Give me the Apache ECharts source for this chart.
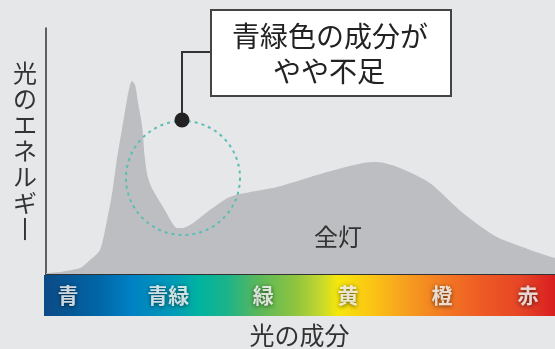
<!DOCTYPE html>
<html>
<head>
<meta charset="utf-8">
<script src="https://cdn.jsdelivr.net/npm/echarts@6/dist/echarts.min.js"></script>
<style>
html,body{margin:0;padding:0;background:#e6e7e9;}
#c{width:555px;height:349px;}
</style>
</head>
<body>
<div id="c"></div>
<script>
// Spectrum (relative position along visible spectrum 0-100, relative energy 0-100)
var spectrumX = [0, 2.75, 6.68, 8.64, 10.6, 12.0, 13.0, 13.9, 14.9, 15.9, 16.5, 16.9, 17.5, 18.1, 18.9, 19.4, 20.0, 21.0, 23.0, 24.8, 25.7, 26.9, 28.9, 32.2, 36.1, 40.1, 45.4, 54.4, 62.3, 65.0, 69.5, 75.4, 81.9, 88.6, 95.1, 100];
var spectrumY = [0.4, 0.8, 2.4, 5.7, 9.8, 22, 32.9, 46.3, 58.5, 70.7, 76.8, 78.5, 76.8, 69.5, 59.8, 47.6, 39.4, 34.1, 27.2, 20.7, 18.7, 18.7, 20.7, 26, 31.3, 33.3, 35.4, 41, 45.1, 45.5, 43.1, 37, 24.8, 15, 9.8, 6.5];
// Colour band labels and their positions along the band (0-100)
var bandLabels = ['青', '青緑', '緑', '黄', '橙', '赤'];
var bandPos = [4.7, 24.3, 42.9, 59.5, 77.9, 94.7];
var yAxisTitle = '光のエネルギー';
var xAxisTitle = '光の成分';
var seriesName = '全灯';
var noteLines = ['青緑色の成分が', 'やや不足'];

var FONT = '"Noto Sans CJK JP", "Noto Sans", sans-serif';
var chart = echarts.init(document.getElementById('c'), null, {renderer: 'canvas'});

var areaData = spectrumX.map(function (x, i) { return [x, spectrumY[i]]; });
var bandData = bandPos.map(function (x, i) { return [x, 0.5, bandLabels[i]]; });

var bandGradient = {
  type: 'linear', x: 0, y: 0, x2: 1, y2: 0,
  colorStops: [
    {offset: 0, color: '#0b4a86'},
    {offset: 0.11, color: '#0067a8'},
    {offset: 0.168, color: '#0080c3'},
    {offset: 0.252, color: '#009bb8'},
    {offset: 0.305, color: '#00b39f'},
    {offset: 0.358, color: '#1cb38a'},
    {offset: 0.417, color: '#58b75c'},
    {offset: 0.491, color: '#8dc43f'},
    {offset: 0.54, color: '#c2d72e'},
    {offset: 0.575, color: '#f6e70b'},
    {offset: 0.642, color: '#fbc414'},
    {offset: 0.706, color: '#f6a01e'},
    {offset: 0.785, color: '#f27823'},
    {offset: 0.857, color: '#ee5a24'},
    {offset: 0.935, color: '#e64426'},
    {offset: 1, color: '#d81e20'}
  ]
};

var vertName = yAxisTitle.split('').map(function (c) { return c === 'ー' ? '丨' : c; }).join('\n');

chart.setOption({
  backgroundColor: '#e6e7e9',
  animation: false,
  grid: [
    {left: 46, right: 0, top: 28, bottom: 75},
    {left: 44, right: 0, top: 275, bottom: 33, show: true, backgroundColor: bandGradient, borderWidth: 0}
  ],
  xAxis: [
    {type: 'value', gridIndex: 0, min: 0, max: 100, axisLabel: {show: false}, axisTick: {show: false}, splitLine: {show: false},
     axisLine: {show: true, lineStyle: {color: '#333', width: 2}}},
    {type: 'value', gridIndex: 1, min: 0, max: 100, axisLabel: {show: false}, axisTick: {show: false}, splitLine: {show: false},
     axisLine: {show: false}, name: xAxisTitle, nameLocation: 'middle', nameGap: 7,
     nameTextStyle: {fontFamily: FONT, fontSize: 25, color: '#333'}}
  ],
  yAxis: [
    {type: 'value', gridIndex: 0, min: 0, max: 100, axisLabel: {show: false}, axisTick: {show: false}, splitLine: {show: false},
     axisLine: {show: true, lineStyle: {color: '#333', width: 1.5}},
     name: vertName, nameLocation: 'middle', nameRotate: 0, nameGap: 9,
     nameTextStyle: {fontFamily: FONT, fontSize: 24, color: '#333', lineHeight: 26, padding: [22, 0, 0, 0]}},
    {type: 'value', gridIndex: 1, min: 0, max: 1, show: false}
  ],
  series: [
    {type: 'line', name: seriesName, xAxisIndex: 0, yAxisIndex: 0, data: areaData, smooth: 0.25,
     showSymbol: false, symbol: 'none', lineStyle: {width: 0}, areaStyle: {color: '#bdbec1', opacity: 1}, z: 1},
    {type: 'scatter', xAxisIndex: 1, yAxisIndex: 1, data: bandData, symbolSize: 0,
     label: {show: true, position: 'inside', formatter: function (p) { return p.data[2]; },
       fontFamily: FONT, fontSize: 21, fontWeight: 'bold', color: '#fff',
       textShadowColor: 'rgba(0,0,0,0.75)', textShadowBlur: 4, textShadowOffsetX: 0, textShadowOffsetY: 1}}
  ],
  graphic: [
    {type: 'text', x: 338, y: 237, z: 10, style: {text: seriesName, font: '24px ' + FONT, fill: '#333', align: 'center', verticalAlign: 'middle'}},
    {type: 'circle', shape: {cx: 183, cy: 178, r: 57}, z: 10, style: {fill: 'none', stroke: '#5cbdb5', lineWidth: 2, lineDash: [3, 4]}},
    {type: 'polyline', shape: {points: [[211, 52], [182, 52], [182, 120]]}, z: 11, style: {fill: 'none', stroke: '#333', lineWidth: 2}},
    {type: 'circle', shape: {cx: 182, cy: 120, r: 7.5}, z: 12, style: {fill: '#222'}},
    {type: 'rect', shape: {x: 211, y: 10, width: 240, height: 86}, z: 11, style: {fill: '#fff', stroke: '#444', lineWidth: 2}},
    {type: 'text', x: 330, y: 36, z: 12, style: {text: noteLines[0], font: '28px ' + FONT, fill: '#222', align: 'center', verticalAlign: 'middle'}},
    {type: 'text', x: 329, y: 71, z: 12, style: {text: noteLines[1], font: '28px ' + FONT, fill: '#222', align: 'center', verticalAlign: 'middle'}}
  ]
});
</script>
</body>
</html>
